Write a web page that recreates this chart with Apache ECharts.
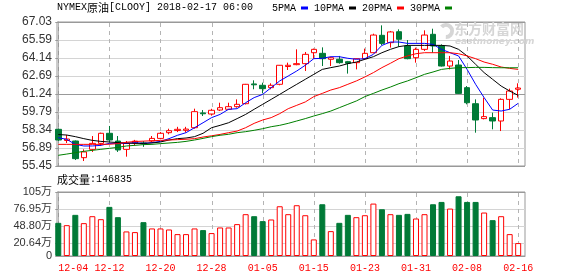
<!DOCTYPE html>
<html><head><meta charset="utf-8">
<script src="https://cdn.jsdelivr.net/npm/echarts@6/dist/echarts.min.js"></script>
<style>html,body{margin:0;padding:0;background:#fff}#c{width:578px;height:276px}</style>
</head><body><div id="c"></div>
<script>
const dates = ['12-04','12-05','12-06','12-07','12-08','12-11','12-12','12-13','12-14','12-15','12-18','12-19','12-20','12-21','12-22','12-25','12-26','12-27','12-28','12-29','01-01','01-02','01-03','01-04','01-05','01-08','01-09','01-10','01-11','01-12','01-15','01-16','01-17','01-18','01-19','01-22','01-23','01-24','01-25','01-26','01-29','01-30','01-31','02-01','02-02','02-05','02-06','02-07','02-08','02-09','02-12','02-13','02-14','02-15','02-16'];
const opens  = [58.40,57.50,57.46,56.12,56.79,57.27,58.08,57.46,56.79,57.30,57.30,57.46,57.67,58.13,58.30,58.32,58.53,59.72,59.63,59.95,60.01,60.22,60.46,62.05,61.94,61.75,62.02,63.45,63.60,63.68,64.56,64.51,64.03,64.03,63.84,63.76,64.08,64.56,65.96,65.37,66.25,65.10,64.16,64.83,66.04,65.10,63.49,63.57,61.75,60.46,59.26,59.34,59.07,60.81,61.62];
const closes = [57.54,57.62,56.04,56.58,57.27,58.08,57.54,56.74,57.27,57.45,57.25,57.67,58.08,58.29,58.40,58.42,59.82,59.65,59.93,60.14,60.22,60.41,62.02,61.98,61.67,61.94,63.55,63.55,63.68,64.43,64.83,64.08,64.16,63.76,63.71,64.08,64.51,65.98,65.31,66.23,65.64,64.08,64.83,65.98,65.10,63.49,63.89,61.29,60.54,59.15,59.42,59.07,60.81,61.48,61.72];
const lows   = [57.46,57.30,55.93,55.85,56.58,57.06,57.33,56.58,56.20,57.10,56.99,57.38,57.60,58.00,58.18,58.15,58.45,59.47,59.50,59.87,59.95,60.14,60.40,61.62,61.29,61.62,61.94,63.17,63.55,63.09,64.08,63.49,63.49,63.68,62.88,63.22,64.03,64.51,65.15,64.97,65.05,64.03,63.76,64.70,64.56,63.45,63.22,61.25,60.41,58.13,59.20,58.40,58.26,60.01,60.95];
const highs  = [58.45,57.95,57.50,56.79,57.86,58.13,58.67,57.86,57.46,57.55,57.45,57.86,58.18,58.45,58.60,58.60,60.06,59.95,60.05,60.54,60.54,60.81,62.05,62.34,62.15,62.10,63.57,63.76,64.83,64.62,64.89,64.99,64.24,64.30,63.90,64.11,64.89,66.09,66.76,66.31,66.44,65.58,64.97,66.36,66.49,65.23,64.30,63.97,61.88,60.81,60.95,59.74,60.89,61.67,62.10];
const volumes = [54.4,50.6,67.5,53.9,65.3,60.4,80.6,63.7,40.3,39.2,55.5,45.2,45.2,43.5,35.9,35.9,45.2,42.5,37.6,46.8,46.8,52.3,68.6,65.3,57.2,59.9,81.6,68.6,83.3,66.9,27.2,84.9,40.8,54.4,67.5,63.7,66.9,86.0,76.7,68.6,67.5,69.1,61.5,68.6,84.9,88.7,77.8,98.0,88.7,88.7,71.3,58.8,65.3,35.9,21.2];
const ma5  = [57.73,57.59,57.19,57.06,57.06,57.11,57.27,57.27,57.27,57.33,57.27,57.33,57.43,57.65,57.92,58.13,58.53,58.93,59.34,59.60,60.01,60.06,60.54,60.95,61.21,61.75,62.29,62.69,63.09,63.55,64.08,64.11,64.24,64.24,64.11,64.03,64.08,64.43,65.15,65.42,65.42,65.31,65.31,65.31,65.23,64.83,64.56,64.30,63.22,62.02,60.95,59.95,59.87,60.01,60.49];
const ma10 = [57.98,57.94,57.81,57.65,57.51,57.43,57.38,57.33,57.30,57.27,57.27,57.30,57.38,57.54,57.65,57.70,57.81,58.08,58.53,58.72,58.93,59.26,59.60,60.01,60.41,60.81,61.21,61.62,62.02,62.42,62.82,63.22,63.36,63.49,63.68,63.81,64.03,64.24,64.56,64.83,65.05,65.15,65.15,65.15,65.15,65.15,65.10,64.83,64.30,63.63,62.96,62.42,61.88,61.48,61.13];
const ma20 = [57.19,57.19,57.19,57.19,57.19,57.19,57.20,57.25,57.36,57.42,57.45,57.48,57.51,57.54,57.57,57.60,57.65,57.78,57.88,57.99,58.13,58.26,58.53,58.88,59.15,59.34,59.66,60.06,60.33,60.60,61.03,61.29,61.56,61.75,62.02,62.29,62.61,62.96,63.36,63.71,64.08,64.30,64.48,64.56,64.56,64.56,64.56,64.48,64.30,64.08,63.81,63.63,63.41,63.30,63.22];
const ma30 = [56.31,56.41,56.52,56.63,56.71,56.79,56.87,56.95,57.06,57.11,57.17,57.19,57.25,57.30,57.35,57.43,57.54,57.67,57.81,57.92,58.00,58.13,58.21,58.32,58.45,58.61,58.72,58.88,59.07,59.26,59.47,59.66,59.87,60.14,60.41,60.68,61.03,61.29,61.56,61.80,62.07,62.29,62.55,62.82,63.01,63.22,63.30,63.36,63.36,63.38,63.38,63.36,63.35,63.35,63.35];
const priceTickLabels = ['55.45','56.89','58.34','59.79','61.24','62.69','64.14','65.59','67.03'];
const priceMin = 55.45, priceMax = 67.03;
const volTickValues = [0, 20.64, 48.80, 76.95, 105];
const volTickLabels = ['0','20.64万','48.80万','76.95万','105万'];
const dateTickIdx = [0,6,12,18,24,30,36,42,48,54];
const maNames = ['5PMA','10PMA','20PMA','30PMA'];

const RED = '#ff0000', GREEN = '#007a37';
const priceTicks = priceTickLabels.map((_, i) => priceMin + i * (priceMax - priceMin) / 8);
function priceLabel(v){ let b=0,d=1e9; priceTicks.forEach((t,i)=>{ if(Math.abs(t-v)<d){d=Math.abs(t-v);b=i;} }); return priceTickLabels[b]; }
function volLabel(v){ let b=0,d=1e9; volTickValues.forEach((t,i)=>{ if(Math.abs(t-v)<d){d=Math.abs(t-v);b=i;} }); return volTickLabels[b]; }

const candleData = dates.map((d,i)=>[i, opens[i], closes[i], lows[i], highs[i]]);
const volData = volumes.map((v,i)=>{
  const up = closes[i] >= opens[i];
  return { value:[i, v], itemStyle: up ? {color:'#ffffff', borderColor:RED, borderWidth:1} : {color:GREEN, borderColor:GREEN, borderWidth:1} };
});
const mk = arr => arr.map((v,i)=>[i,v]);

const gridCommon = { left:57, right:53, show:true, borderColor:'#999', borderWidth:1, backgroundColor:'transparent' };
const splitGray = ['#999','#d4d4d4','#d4d4d4','#d4d4d4','#999','#d4d4d4','#d4d4d4','#d4d4d4','#999'];

const baseGraphic = [
  { type:'text', left:57, top:2, z:10, style:{ text:'{a|NYMEX}{c|原油}{a|[CLOOY] 2018-02-17 06:00}',
      rich:{ a:{fontFamily:'Liberation Mono', fontSize:10, fill:'#000'}, c:{fontFamily:'Noto Sans CJK SC', fontSize:11, fill:'#000'} } } },
  { type:'text', left:57, top:174, z:10, style:{ text:'{c|成交量}{a|:146835}',
      rich:{ a:{fontFamily:'Liberation Mono', fontSize:10, fill:'#000'}, c:{fontFamily:'Noto Sans CJK SC', fontSize:11, fill:'#000'} } } },
  { type:'arc', z:1, shape:{cx:446, cy:31, r:6, startAngle:-2.4, endAngle:1.6}, style:{stroke:'#d6d6d6', lineWidth:4, fill:null} },
  { type:'text', left:454, top:22, z:1, style:{ text:'东方财富网', fontFamily:'Noto Sans CJK SC', fontWeight:'bold', fontSize:14, fill:'#d6d6d6' } },
  { type:'text', left:455, top:37, z:1, style:{ text:'eastmoney.com', fontFamily:'DejaVu Sans', fontStyle:'italic', fontWeight:'bold', fontSize:9, fill:'#d6d6d6' } }
];

const chart = echarts.init(document.getElementById('c'), null, {renderer:'canvas'});
chart.setOption({
  animation:false,
  backgroundColor:'#ffffff',
  grid:[ Object.assign({top:22, height:144}, gridCommon), Object.assign({top:192, height:64}, gridCommon) ],
  legend:{ left:272, top:3, padding:0, align:'right', icon:'rect', itemWidth:7, itemHeight:3, itemGap:6,
    textStyle:{ fontFamily:'Liberation Mono', fontSize:10, color:'#000' }, data: maNames },
  xAxis:[
    { type:'value', gridIndex:0, min:-0.15, max:54.8,
      axisLine:{show:false}, axisTick:{show:false}, axisLabel:{show:false}, splitLine:{show:false} },
    { type:'value', gridIndex:1, min:-0.15, max:54.8,
      axisLine:{show:true, lineStyle:{color:'#999'}}, axisTick:{show:false, customValues:dateTickIdx},
      axisLabel:{ customValues:dateTickIdx, formatter: v => dates[Math.round(v)] || '', color:RED, fontFamily:'Liberation Mono', fontSize:10, margin:7, alignMinLabel:'left' },
      splitLine:{show:false} }
  ],
  yAxis:[
    { type:'value', gridIndex:0, min:priceMin, max:priceMax, scale:true,
      axisLine:{show:true, lineStyle:{color:'#999'}},
      axisTick:{show:true, length:3, customValues:priceTicks, lineStyle:{color:'#999'}},
      axisLabel:{ customValues:priceTicks, formatter: priceLabel, color:'#333', fontFamily:'Liberation Sans', fontSize:12, margin:5 },
      splitLine:{show:true, lineStyle:{color:splitGray, width:1}} },
    { type:'value', gridIndex:1, min:0, max:105,
      axisLine:{show:true, lineStyle:{color:'#999'}},
      axisTick:{show:true, length:3, customValues:volTickValues, lineStyle:{color:'#999'}},
      axisLabel:{ customValues:volTickValues, formatter: volLabel, color:'#333', fontFamily:'Liberation Sans, Noto Sans CJK SC', fontSize:11, margin:5 },
      splitLine:{show:true, lineStyle:{color:['#999','#d4d4d4','#d4d4d4','#d4d4d4','#999'], width:1}} }
  ],
  graphic: baseGraphic,
  series:[
    { type:'candlestick', xAxisIndex:0, yAxisIndex:0, data:candleData, barWidth:6, z:3,
      itemStyle:{ color:'#ffffff', color0:GREEN, borderColor:RED, borderColor0:GREEN, borderWidth:1 } },
    { name:maNames[0], type:'line', xAxisIndex:0, yAxisIndex:0, data:mk(ma5), z:4, showSymbol:false, symbol:'none', lineStyle:{color:'#0000ff', width:1}, itemStyle:{color:'#0000ff'} },
    { name:maNames[1], type:'line', xAxisIndex:0, yAxisIndex:0, data:mk(ma10), z:4, showSymbol:false, symbol:'none', lineStyle:{color:'#000000', width:1}, itemStyle:{color:'#000000'} },
    { name:maNames[2], type:'line', xAxisIndex:0, yAxisIndex:0, data:mk(ma20), z:4, showSymbol:false, symbol:'none', lineStyle:{color:'#ff0000', width:1}, itemStyle:{color:'#ff0000'} },
    { name:maNames[3], type:'line', xAxisIndex:0, yAxisIndex:0, data:mk(ma30), z:4, showSymbol:false, symbol:'none', lineStyle:{color:'#008000', width:1}, itemStyle:{color:'#008000'} },
    { type:'bar', xAxisIndex:1, yAxisIndex:1, data:volData, barWidth:6, z:3 }
  ]
});

// dashed vertical grid lines at the date ticks, positioned through the axes' own scales
const dashes = [];
[[0, priceMin, priceMax], [1, 0, 105]].forEach(([g, lo, hi]) => {
  dateTickIdx.forEach(i => {
    const pTop = chart.convertToPixel({gridIndex:g}, [i, hi]);
    const pBot = chart.convertToPixel({gridIndex:g}, [i, lo]);
    if (!pTop || !pBot) return;
    const x = Math.round(pTop[0]) + 0.5;
    for (let y = Math.round(pTop[1]) + 1; y < pBot[1] - 1; y += 8) {
      dashes.push({ type:'line', silent:true, z:2,
        shape:{x1:x, y1:y, x2:x, y2:Math.min(y + 4, pBot[1] - 1)},
        style:{stroke:'#b4b4b4', lineWidth:1} });
    }
  });
});
chart.setOption({ graphic: baseGraphic.concat(dashes) });
</script></body></html>
